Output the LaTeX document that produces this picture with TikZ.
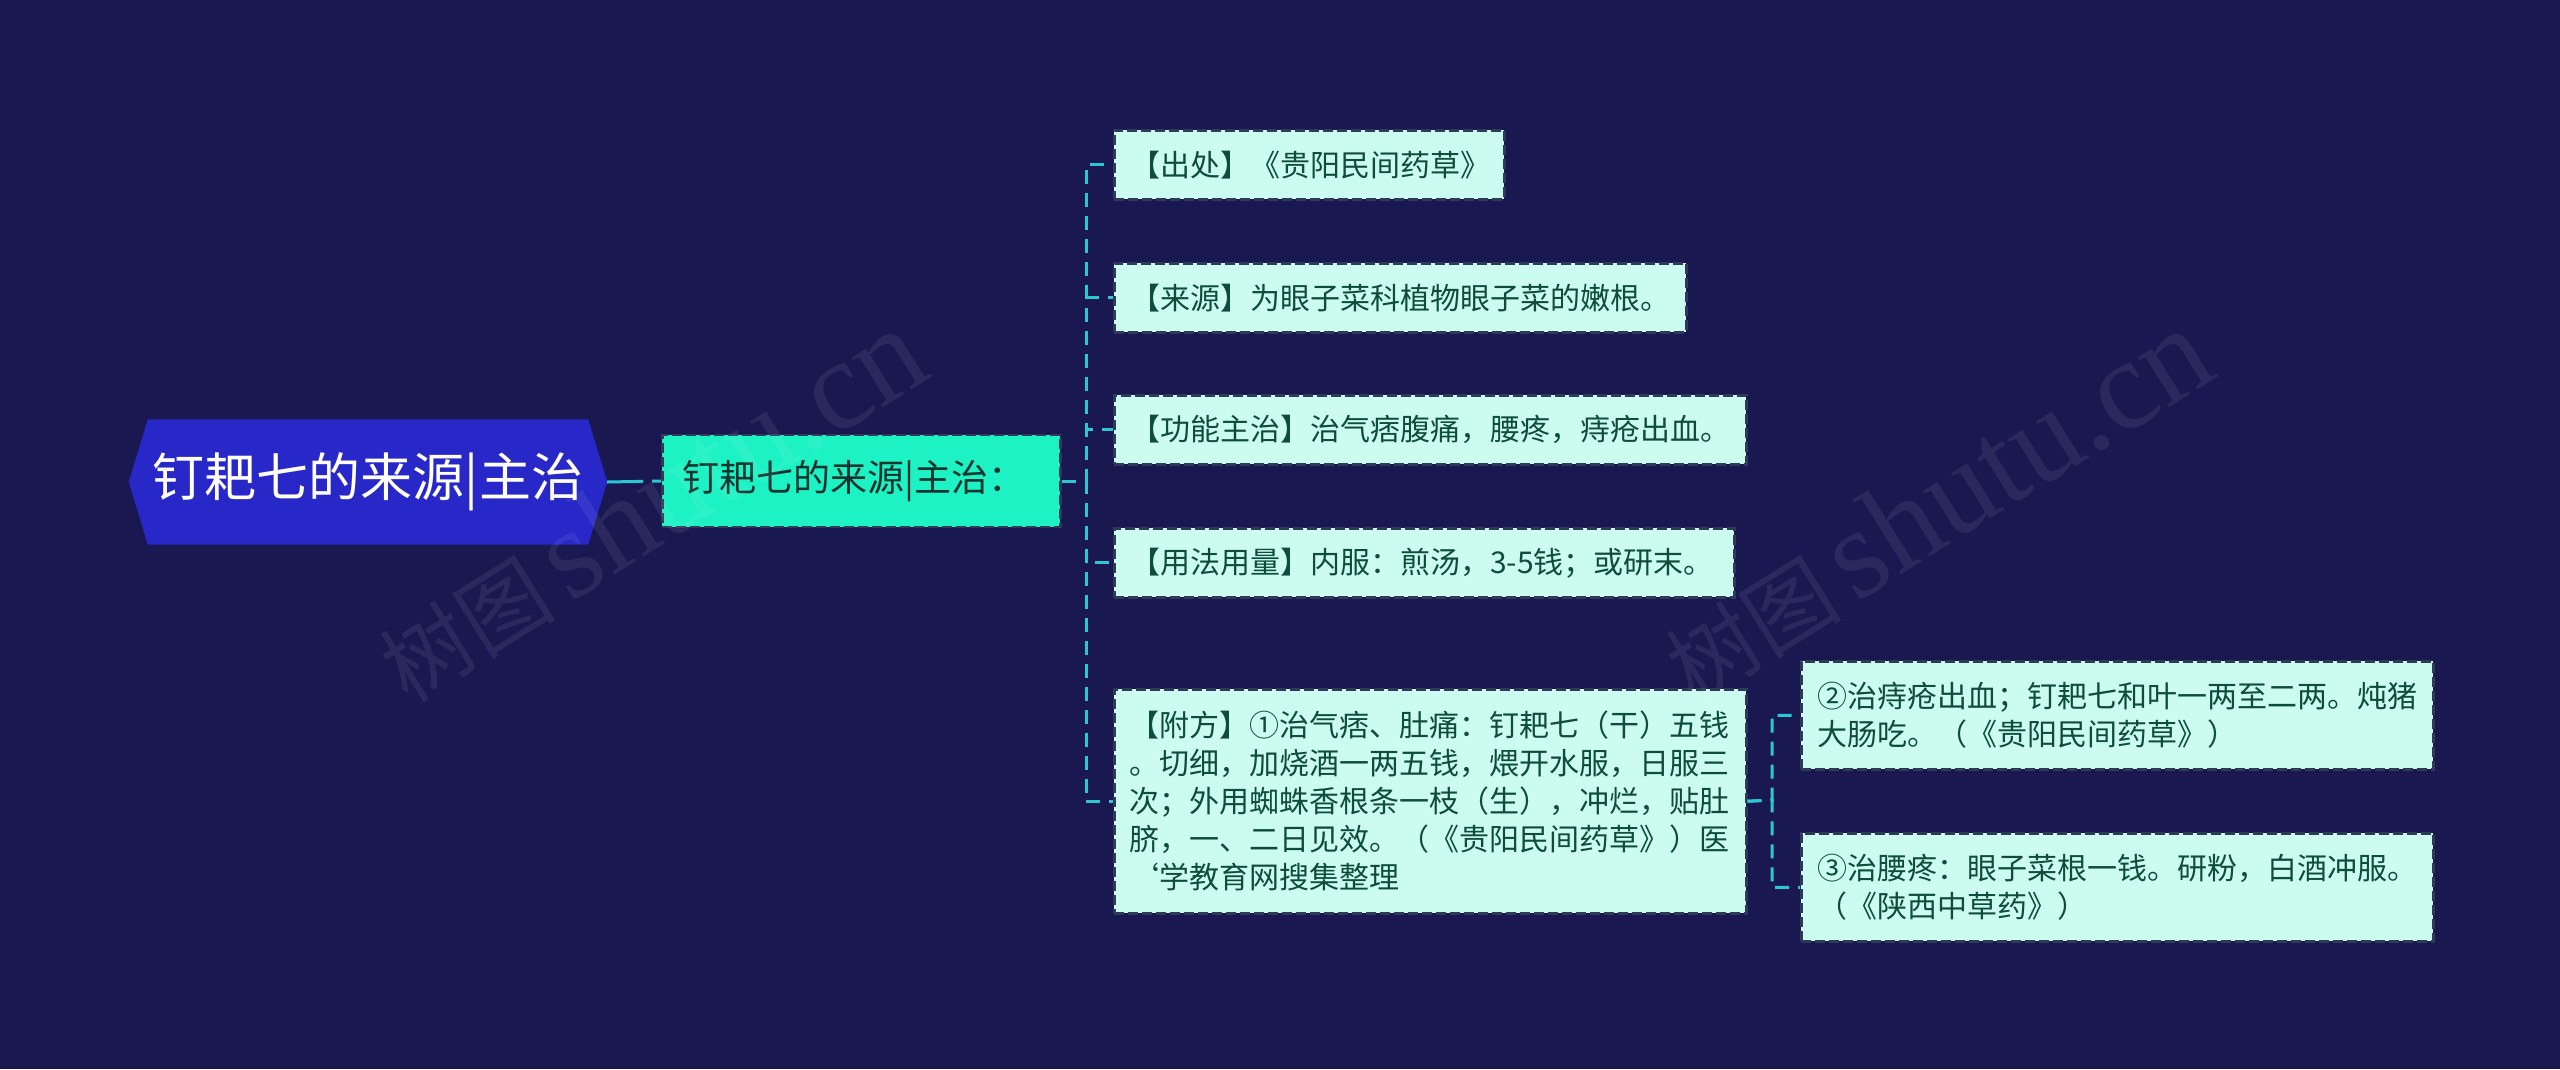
\documentclass[tikz,border=0pt]{standalone}
\usepackage{fontspec}
\setmainfont{Noto Sans CJK SC}
\newfontfamily\wmserif{Liberation Serif}
\usetikzlibrary{calc}
\definecolor{bgc}{HTML}{1A1851}
\definecolor{rootc}{HTML}{2828C8}
\definecolor{mainc}{HTML}{1CF2C4}
\definecolor{leafc}{HTML}{CCFBEF}
\definecolor{leaftext}{HTML}{0E4D3C}
\definecolor{maintext}{HTML}{16332E}
\definecolor{linec}{HTML}{2BC8D4}
\definecolor{borderc}{HTML}{2E3A58}
\pgfdeclarelayer{back}
\pgfsetlayers{back,main}
\tikzset{
  conn/.style={draw=linec, line width=3pt, dash pattern=on 14pt off 9pt},
  leafbox/.style={draw=borderc, fill=leafc, line width=2.5pt, dash pattern=on 10pt off 4pt,
    anchor=north west, inner xsep=16pt, inner ysep=0pt, align=left, text=leaftext,
    font=\fontsize{30}{38}\selectfont},
  mainbox/.style={draw=borderc, fill=mainc, line width=2.5pt, dash pattern=on 10pt off 4pt,
    anchor=west, inner xsep=20pt, inner ysep=0pt, align=left, text=maintext,
    font=\fontsize{37}{44}\selectfont, minimum height=92pt, text width=358pt},
  rootbox/.style={inner sep=0pt, minimum width=440pt, minimum height=125pt, text=white,
    font=\fontsize{52}{60}\selectfont},
  wmark/.style={text=white, opacity=0.07, rotate=32, inner sep=0pt}
}
\begin{document}
\begin{tikzpicture}[x=1pt,y=-1pt]
\useasboundingbox (0,0) rectangle (2560,1069);
\begin{pgfonlayer}{back}
\fill[bgc] (0,0) rectangle (2560,1069);
\end{pgfonlayer}

% root
\node[rootbox] (root) at (368,482) {钉耙七的来源|主治};
\begin{pgfonlayer}{back}
\fill[rootc] (root.north west) -- (root.north east) -- ($(root.east)+(19,0)$) -- (root.south east)
  -- (root.south west) -- ($(root.west)+(-19,0)$) -- cycle;
\end{pgfonlayer}

% main child
\node[mainbox] (main) at (661,481) {钉耙七的来源|主治：};

% leaves
\node[leafbox, minimum height=69pt, text width=358pt] (l1) at (1113,129) {【出处】《贵阳民间药草》};
\node[leafbox, minimum height=69pt, text width=540pt] (l2) at (1113,262) {【来源】为眼子菜科植物眼子菜的嫩根。};
\node[leafbox, minimum height=69pt, text width=600pt] (l3) at (1113,394) {【功能主治】治气痞腹痛，腰疼，痔疮出血。};
\node[leafbox, minimum height=69pt, text width=588pt] (l4) at (1113,527) {【用法用量】内服：煎汤，3-5钱；或研末。};
\node[leafbox, minimum height=224pt, text width=602pt, inner xsep=15pt] (l5) at (1113,688) {【附方】①治气痞、肚痛：钉耙七（干）五钱\\。切细，加烧酒一两五钱，煨开水服，日服三\\次；外用蜘蛛香根条一枝（生），冲烂，贴肚\\脐，一、二日见效。（《贵阳民间药草》）医\\\char"60 学教育网搜集整理};

\node[leafbox, minimum height=108pt, text width=600pt] (s1) at (1800,660) {②治痔疮出血；钉耙七和叶一两至二两。炖猪\\大肠吃。（《贵阳民间药草》）};
\node[leafbox, minimum height=108pt, text width=600pt] (s2) at (1800,832) {③治腰疼：眼子菜根一钱。研粉，白酒冲服。\\（《陕西中草药》）};

% connectors
\draw[draw=linec, line width=3pt, dash pattern=on 36pt off 9pt] (root.east) ++(19,0) -- (main.west);
\coordinate (t) at (1086,481);
\foreach \n in {l1,l2,l3,l4,l5}{
  \draw[conn] (main.east) -- (t) |- (\n.west);
}
\coordinate (t2) at (1772,800);
\foreach \n in {s1,s2}{
  \draw[conn] (l5.east) -- (t2) |- (\n.west);
}

% watermarks
\node[wmark] (wm1) at (650,505) {\fontsize{88}{90}\selectfont 树图\,{\wmserif\fontsize{128}{128}\selectfont shutu.cn}};
\node[wmark] (wm2) at (1936,505) {\fontsize{88}{90}\selectfont 树图\,{\wmserif\fontsize{128}{128}\selectfont shutu.cn}};
\end{tikzpicture}
\end{document}
